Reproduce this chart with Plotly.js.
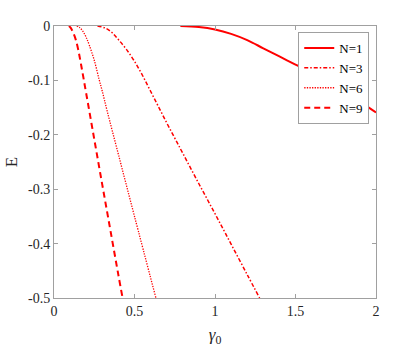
<!DOCTYPE html>
<html>
<head>
<meta charset="utf-8">
<script src="https://cdn.plot.ly/plotly-3.0.1.min.js"></script>
<style>html,body{margin:0;padding:0;background:#fff;}#chart{width:415px;height:350px;}</style>
</head>
<body>
<div id="chart"></div>
<script>
// N = 1
var x1 = [0.785, 0.9, 1.0, 1.1, 1.2, 1.3, 1.4, 1.5, 1.6, 1.7, 1.8, 1.9, 2.0];
var e1 = [0, -0.002, -0.0065, -0.0145, -0.026, -0.041, -0.056, -0.071, -0.086, -0.103, -0.12, -0.139, -0.159];
// N = 3
var x3 = [0.27, 0.32, 0.36, 0.4, 0.45, 0.5, 0.55, 0.6, 0.65, 0.7, 0.75, 0.8, 0.9, 1.0, 1.1, 1.2, 1.277];
var e3 = [0, -0.004, -0.012, -0.025, -0.043, -0.065, -0.091, -0.12, -0.149, -0.178, -0.206, -0.234, -0.29, -0.345, -0.401, -0.457, -0.5];
// N = 6
var x6 = [0.141, 0.16, 0.18, 0.2, 0.22, 0.25, 0.28, 0.3, 0.33, 0.4, 0.5, 0.633];
var e6 = [0, -0.003, -0.01, -0.021, -0.036, -0.063, -0.098, -0.12, -0.156, -0.236, -0.35, -0.5];
// N = 9
var x9 = [0.093, 0.105, 0.12, 0.135, 0.15, 0.17, 0.2, 0.25, 0.3, 0.35, 0.4, 0.426];
var e9 = [0, -0.004, -0.013, -0.025, -0.043, -0.074, -0.124, -0.208, -0.292, -0.375, -0.458, -0.5];

var names = ['N=1', 'N=3', 'N=6', 'N=9'];
var xTicks = [0, 0.5, 1, 1.5, 2];
var xTickText = ['0', '0.5', '1', '1.5', '2'];
var yTicks = [-0.5, -0.4, -0.3, -0.2, -0.1, 0];
var yTickText = ['-0.5', '-0.4', '-0.3', '-0.2', '-0.1', '0'];

var red = '#ff0000';
var traces = [
  {x: x1, y: e1, name: names[0], mode: 'lines', line: {color: red, width: 2, shape: 'spline'}},
  {x: x3, y: e3, name: names[1], mode: 'lines', line: {color: red, width: 1.5, dash: '4px,2px,1.5px,2px', shape: 'spline'}},
  {x: x6, y: e6, name: names[2], mode: 'lines', line: {color: red, width: 1.3, dash: '1.3px,1.3px', shape: 'spline'}},
  {x: x9, y: e9, name: names[3], mode: 'lines', line: {color: red, width: 2, dash: '6px,4px', shape: 'spline'}}
];

var fontFam = 'Liberation Serif';
function axis(extra) {
  var a = {
    showline: true, linecolor: '#a0a0a0', linewidth: 1, mirror: 'ticks',
    ticks: 'inside', ticklen: 4, tickcolor: '#a0a0a0', tickwidth: 1,
    showgrid: false, zeroline: false,
    tickfont: {family: 'Liberation Serif', size: 14, color: '#262626'}
  };
  for (var k in extra) a[k] = extra[k];
  return a;
}

var layout = {
  width: 415, height: 350,
  margin: {l: 54, r: 39, t: 26, b: 52},
  paper_bgcolor: '#ffffff', plot_bgcolor: '#ffffff',
  font: {family: fontFam, size: 14, color: '#262626'},
  showlegend: true,
  xaxis: axis({
    range: [0, 2], tickvals: xTicks, ticktext: xTickText,
    title: {text: '<i>γ</i><sub>0</sub>', font: {family: fontFam, size: 17, color: '#262626'}, standoff: 10}
  }),
  yaxis: axis({
    range: [-0.5, 0], tickvals: yTicks, ticktext: yTickText,
    title: {text: 'E', font: {family: fontFam, size: 17, color: '#262626'}, standoff: 6}
  }),
  legend: {
    x: 0.979, xanchor: 'right', y: 0.978, yanchor: 'top',
    bgcolor: '#ffffff', bordercolor: '#a0a0a0', borderwidth: 1,
    font: {family: fontFam, size: 13, color: '#000000'},
    itemwidth: 30, tracegroupgap: 0
  }
};

Plotly.newPlot('chart', traces, layout, {displayModeBar: false, staticPlot: true});
</script>
</body>
</html>
